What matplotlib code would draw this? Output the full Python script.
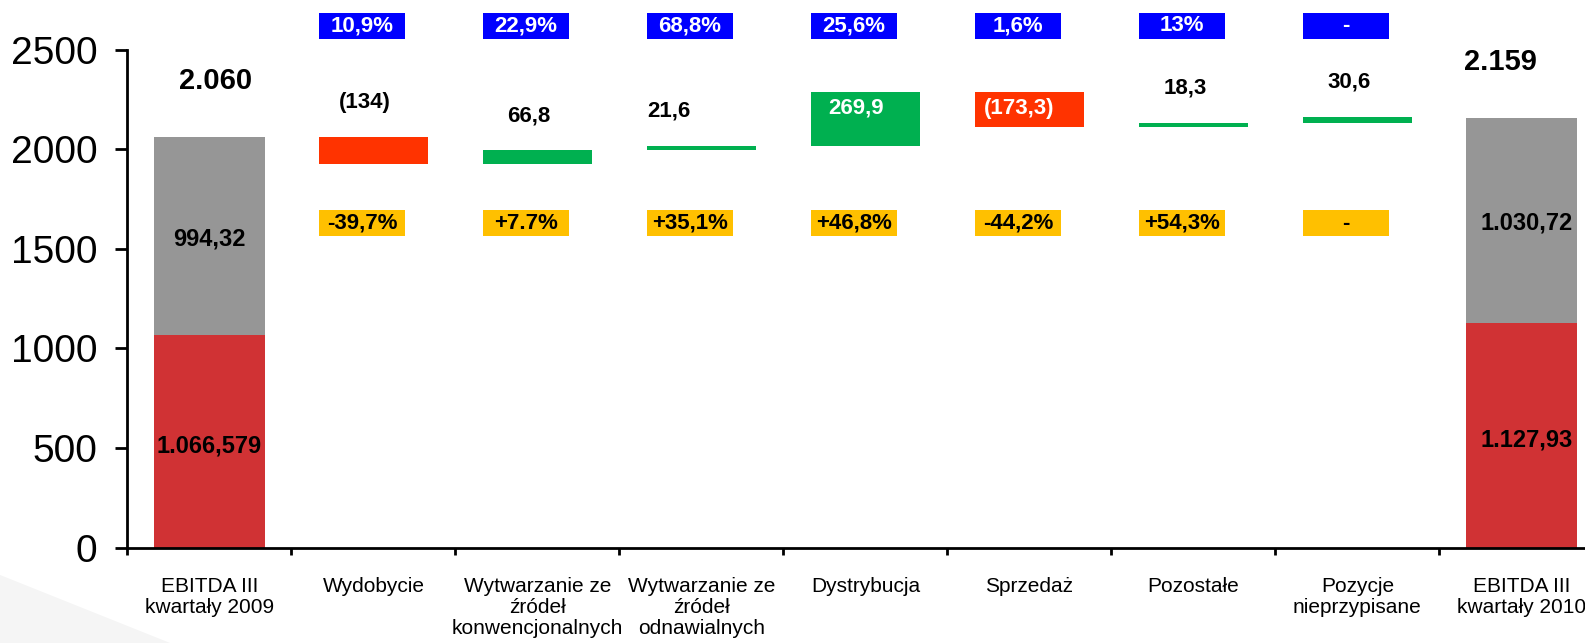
import numpy as np
import matplotlib.pyplot as plt
from matplotlib.patches import Rectangle, Polygon

plt.rcParams['font.family'] = ['Liberation Sans', 'DejaVu Sans']

# Data
categories = ['EBITDA III\nkwartały 2009', 'Wydobycie',
              'Wytwarzanie ze\nźródeł\nkonwencjonalnych',
              'Wytwarzanie ze\nźródeł\nodnawialnych', 'Dystrybucja', 'Sprzedaż',
              'Pozostałe', 'Pozycje\nnieprzypisane', 'EBITDA III\nkwartały 2010']
start_lower, start_upper = 1066.579, 994.32
end_lower, end_upper = 1127.93, 1030.72
deltas = [-134, 66.8, 21.6, 269.9, -173.3, 18.3, 30.6]
delta_labels = ['(134)', '66,8', '21,6', '269,9', '(173,3)', '18,3', '30,6']
share_labels = ['10,9%', '22,9%', '68,8%', '25,6%', '1,6%', '13%', '-']
change_labels = ['-39,7%', '+7.7%', '+35,1%', '+46,8%', '-44,2%', '+54,3%', '-']
total_labels = ['2.060', '2.159']
lower_labels = ['1.066,579', '1.127,93']
upper_labels = ['994,32', '1.030,72']

GRAY = '#969696'
DARK_RED = '#D03234'
RED = '#FF3300'
GREEN = '#00B050'
BLUE = '#0000FF'
ORANGE = '#FFC000'

fig = plt.figure(figsize=(15.85, 6.43), dpi=100)

# faint slide background shape, bottom left
fig.patches.append(Polygon([(0, 0), (0, 68 / 643), (170 / 1585, 0)], closed=True,
                           transform=fig.transFigure, facecolor='#F5F5F5',
                           edgecolor='none', zorder=0))

ax = fig.add_axes([0.0804, 0.1482, 0.9312, 0.7748])
ax.patch.set_alpha(0)

n = len(categories)
x = np.arange(n)
tot_w = 0.68
d_w = 0.66

# totals (stacked)
lowers = [start_lower, end_lower]
uppers = [start_upper, end_upper]
for k, i in enumerate([0, n - 1]):
    ax.bar(i, lowers[k], width=tot_w, color=DARK_RED)
    ax.bar(i, uppers[k], bottom=lowers[k], width=tot_w, color=GRAY)
    top = lowers[k] + uppers[k]
    lx = i + (0 if k == 0 else 0.03)
    ax.text(lx, lowers[k] / 2 - 25, lower_labels[k], ha='center', va='center',
            fontsize=17, fontweight='bold')
    ax.text(lx, lowers[k] + uppers[k] / 2 - 15, upper_labels[k], ha='center',
            va='center', fontsize=17, fontweight='bold')
    dx = 0.04 if k == 0 else -0.13
    ax.text(i + dx, top + 280, total_labels[k], ha='center', va='center',
            fontsize=21, fontweight='bold', clip_on=False)

# waterfall steps
level = start_lower + start_upper
box_w = 0.525
box_h = 130
for j, d in enumerate(deltas):
    i = j + 1
    new = level + d
    bottom = min(level, new)
    color = GREEN if d > 0 else RED
    ax.bar(i, abs(d), bottom=bottom, width=d_w, color=color)
    top = max(level, new)
    if abs(d) > 150:
        ax.text(i - 0.06, top - 80, delta_labels[j], ha='center', va='center',
                fontsize=16, fontweight='bold', color='white')
    else:
        dx = -0.2 if j == 2 else -0.05
        ax.text(i + dx, top + 175, delta_labels[j], ha='center', va='center',
                fontsize=16, fontweight='bold', color='black')
    level = new

    # share (blue) and change (orange) boxes
    for yc, lab, fc, tc in [(2620, share_labels[j], BLUE, 'white'),
                            (1629, change_labels[j], ORANGE, 'black')]:
        xc = i - 0.07
        ax.add_patch(Rectangle((xc - box_w / 2, yc - box_h / 2), box_w, box_h,
                               facecolor=fc, edgecolor='none', clip_on=False))
        ax.text(xc, yc, lab, ha='center', va='center', fontsize=16,
                fontweight='bold', color=tc, clip_on=False)

# axes styling
ax.set_xlim(-0.5, n - 0.5)
ax.set_ylim(0, 2500)
ax.set_yticks([0, 500, 1000, 1500, 2000, 2500])
ax.tick_params(axis='y', labelsize=28, length=8.5, width=2, pad=13)
ax.set_xticks(np.arange(n + 1) - 0.5)
ax.set_xticklabels([])
ax.tick_params(axis='x', which='major', length=5, width=2)
ax.set_xticks(x, minor=True)
ax.set_xticklabels(categories, minor=True, fontsize=15, linespacing=1.15)
ax.tick_params(axis='x', which='minor', length=0, pad=21)
for s in ['top', 'right']:
    ax.spines[s].set_visible(False)
ax.spines['left'].set_linewidth(2)
ax.spines['bottom'].set_linewidth(2)

fig.savefig('out.png', dpi=100)
